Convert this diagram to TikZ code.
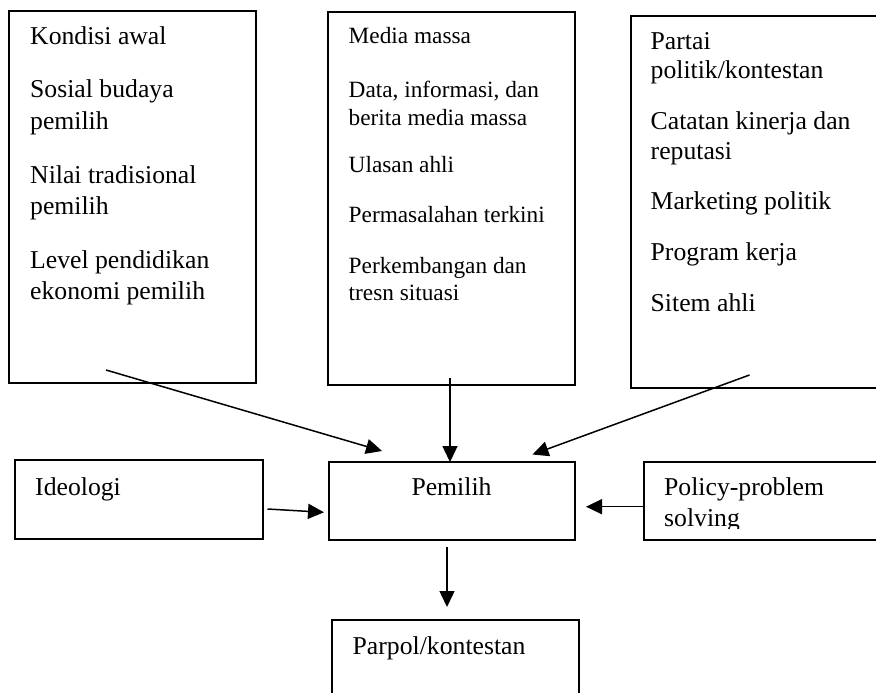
\documentclass[tikz,border=0pt]{standalone}
\usepackage{fontspec}
\setmainfont{Liberation Serif}
\usetikzlibrary{arrows.meta}
\tikzset{
  box/.style={draw=black, line width=2pt, fill=none, inner sep=0pt, outer sep=0pt, anchor=north west},
  bigtxt/.style={anchor=base west, inner sep=0pt, font=\fontsize{25.7}{31}\selectfont},
  smalltxt/.style={anchor=base west, inner sep=0pt, font=\fontsize{23.3}{27}\selectfont},
  arr/.style={line width=1.5pt, -{Triangle[length=16pt,width=15pt]}}
}
\begin{document}
\begin{tikzpicture}[x=1pt,y=-1pt]
\useasboundingbox (0,0) rectangle (876,693);
\clip (0,0) rectangle (876,693);
\fill[white] (0,0) rectangle (876,693);
% boxes
\node[box, minimum width=247pt, minimum height=372pt] (b1) at (9,11) {};
\node[box, minimum width=246.5pt, minimum height=373pt] (b2) at (328,12) {};
\node[box, minimum width=260pt, minimum height=372pt] (b3) at (630.5,16) {};
\node[box, minimum width=247.5pt, minimum height=79pt] (ideo) at (15,459.5) {};
\node[box, minimum width=246pt, minimum height=78pt] (pem) at (328.5,462) {};
\node[box, minimum width=247pt, minimum height=78pt] (pol) at (643.5,462) {};
\node[box, minimum width=246.5pt, minimum height=90pt] (par) at (332,619.5) {};
% left box text
\node[bigtxt] (l1) at (30,45) {Kondisi awal};
\node[bigtxt] (l2) at (30,98) {Sosial budaya};
\node[bigtxt] (l3) at (30,129) {pemilih};
\node[bigtxt] (l4) at (30,183) {Nilai tradisional};
\node[bigtxt] (l5) at (30,214) {pemilih};
\node[bigtxt] (l6) at (30,268) {Level pendidikan};
\node[bigtxt] (l7) at (30,299) {ekonomi pemilih};
% middle box text
\node[smalltxt] (m1) at (348.5,44) {Media massa};
\node[smalltxt] (m2) at (348.5,98) {Data, informasi, dan};
\node[smalltxt] (m3) at (348.5,125) {berita media massa};
\node[smalltxt] (m4) at (348.5,172) {Ulasan ahli};
\node[smalltxt] (m5) at (348.5,222) {Permasalahan terkini};
\node[smalltxt] (m6) at (348.5,273) {Perkembangan dan};
\node[smalltxt] (m7) at (348.5,300) {tresn situasi};
% right box text
\node[bigtxt] (r1) at (650.5,49.5) {Partai};
\node[bigtxt] (r2) at (650.5,78.5) {politik/kontestan};
\node[bigtxt] (r3) at (650.5,129.5) {Catatan kinerja dan};
\node[bigtxt] (r4) at (650.5,159.5) {reputasi};
\node[bigtxt] (r5) at (650.5,209.5) {Marketing politik};
\node[bigtxt] (r6) at (650.5,260) {Program kerja};
\node[bigtxt] (r7) at (650.5,311.5) {Sitem ahli};
% lower texts
\node[bigtxt] (ti) at (35,495) {Ideologi};
\node[bigtxt, anchor=base] (tp) at (451.5,495) {Pemilih};
\node[bigtxt] (tq1) at (664,495) {Policy-problem};
\begin{scope}
\clip (643,462) rectangle (876,528);
\node[bigtxt] (tq2) at (664,526) {solving};
\end{scope}
\node[bigtxt] (tk) at (352.5,654) {Parpol/kontestan};
% connector end points
\coordinate (a1s) at (106,370);
\coordinate (a1e) at (382,451);
\coordinate (a2s) at (450,378);
\coordinate (a2e) at (450,462);
\coordinate (a3s) at (749.5,375);
\coordinate (a3e) at (532.5,454.5);
\coordinate (a4s) at (267.5,509);
\coordinate (a4e) at (324,512.3);
\coordinate (a5s) at (643.5,506.7);
\coordinate (a5e) at (586,506.7);
\coordinate (a6s) at (447,547);
\coordinate (a6e) at (447,607);
% connectors
\draw[arr] (a1s) -- (a1e);
\draw[arr] (a2s) -- (a2e);
\draw[arr] (a3s) -- (a3e);
\draw[arr] (a4s) -- (a4e);
\draw[arr] (a5s) -- (a5e);
\draw[arr] (a6s) -- (a6e);
\end{tikzpicture}
\end{document}
